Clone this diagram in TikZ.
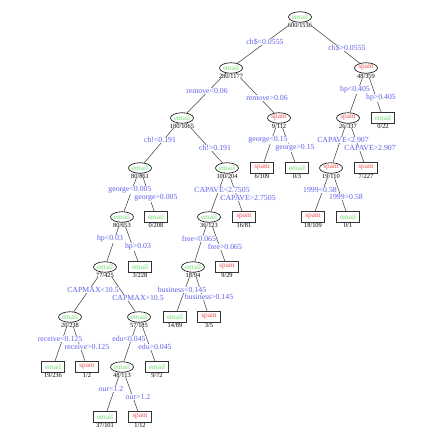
\documentclass[tikz,border=0pt]{standalone}
\usepackage{fontspec}
\setmainfont{Liberation Serif}
\usepackage{tikz}
\usetikzlibrary{shapes.geometric,backgrounds}
\definecolor{spEmail}{RGB}{110,222,110}
\definecolor{spSpam} {RGB}{236, 82, 82}
\definecolor{spSplit}{RGB}{ 96, 96,236}
\definecolor{spEdge} {RGB}{ 70, 70, 70}

\begin{document}
\begin{tikzpicture}[
  x=1pt,y=1pt,
  inner/.style={ellipse,draw=black,line width=0.6pt,fill=white,
              minimum width=23pt,minimum height=10.5pt,inner sep=0pt,
              font=\fontsize{7.2}{7.2}\selectfont},
  leaf/.style={rectangle,draw=black!80,line width=1.1pt,fill=white,
              minimum width=23pt,minimum height=11pt,inner sep=0pt,
              font=\fontsize{7.2}{7.2}\selectfont},
  em/.style={text=spEmail},
  sp/.style={text=spSpam},
  cnt/.style={text=black,fill=white,font=\fontsize{6.4}{6.4}\selectfont,inner sep=0.2pt},
  cut/.style={text=spSplit,fill=white,font=\fontsize{7.8}{7.8}\selectfont,inner sep=0.3pt},
  edge/.style={spEdge,line width=0.55pt}
]
\useasboundingbox (0,0) rectangle (421,-436);

\node[inner,em,label={[cnt]below:600/1536}] (n1)   at (300,-17)  {email};
\node[inner,em,label={[cnt]below:280/1177}] (n2)   at (231,-68)  {email};
\node[inner,sp,label={[cnt]below:48/359}]   (n3)   at (366,-68)  {spam};
\node[inner,em,label={[cnt]below:180/1065}] (n4)   at (182,-118) {email};
\node[inner,sp,label={[cnt]below:9/112}]    (n5)   at (279,-118) {spam};
\node[inner,sp,label={[cnt]below:26/337}]   (n6)   at (348,-118) {spam};
\node[leaf,em,label={[cnt]below:0/22}]      (n7)   at (383,-118) {email};
\node[inner,em,label={[cnt]below:80/861}]   (n8)   at (140,-168) {email};
\node[inner,em,label={[cnt]below:100/204}]  (n9)   at (227,-168) {email};
\node[leaf,sp,label={[cnt]below:6/109}]     (n10)  at (262,-168) {spam};
\node[leaf,em,label={[cnt]below:0/3}]       (n11)  at (297,-168) {email};
\node[inner,sp,label={[cnt]below:19/110}]   (n12)  at (331,-168) {spam};
\node[leaf,sp,label={[cnt]below:7/227}]     (n13)  at (366,-168) {spam};
\node[inner,em,label={[cnt]below:80/653}]   (n16)  at (122,-217) {email};
\node[leaf,em,label={[cnt]below:0/208}]     (n17)  at (156,-217) {email};
\node[inner,em,label={[cnt]below:36/123}]   (n18)  at (209,-217) {email};
\node[leaf,sp,label={[cnt]below:16/81}]     (n19)  at (244,-217) {spam};
\node[leaf,sp,label={[cnt]below:18/109}]    (n24)  at (313,-217) {spam};
\node[leaf,em,label={[cnt]below:0/1}]       (n25)  at (348,-217) {email};
\node[inner,em,label={[cnt]below:77/425}]   (n32)  at (105,-267) {email};
\node[leaf,em,label={[cnt]below:3/228}]     (n33)  at (140,-267) {email};
\node[inner,em,label={[cnt]below:18/94}]    (n36)  at (193,-267) {email};
\node[leaf,sp,label={[cnt]below:9/29}]      (n37)  at (227,-267) {spam};
\node[inner,em,label={[cnt]below:20/238}]   (n64)  at (70,-317)  {email};
\node[inner,em,label={[cnt]below:57/185}]   (n65)  at (139,-317) {email};
\node[leaf,em,label={[cnt]below:14/89}]     (n72)  at (175,-317) {email};
\node[leaf,sp,label={[cnt]below:3/5}]       (n73)  at (209,-317) {spam};
\node[leaf,em,label={[cnt]below:19/236}]    (n128) at (53,-367)  {email};
\node[leaf,sp,label={[cnt]below:1/2}]       (n129) at (87,-367)  {spam};
\node[inner,em,label={[cnt]below:48/113}]   (n130) at (122,-367) {email};
\node[leaf,em,label={[cnt]below:9/72}]      (n131) at (157,-367) {email};
\node[leaf,em,label={[cnt]below:37/101}]    (n260) at (105,-417) {email};
\node[leaf,sp,label={[cnt]below:1/12}]      (n261) at (140,-417) {spam};

\node[cut] (c1l)   at (265,-42)  {ch\$<0.0555};
\node[cut] (c1r)   at (347,-48)  {ch\$>0.0555};
\node[cut] (c2l)   at (207,-91)  {remove<0.06};
\node[cut] (c2r)   at (267,-98)  {remove>0.06};
\node[cut] (c3l)   at (355,-90)  {hp<0.405};
\node[cut] (c3r)   at (381,-98)  {hp>0.405};
\node[cut] (c4l)   at (160,-140) {ch!<0.191};
\node[cut] (c4r)   at (215,-148) {ch!>0.191};
\node[cut] (c5l)   at (268,-140) {george<0.15};
\node[cut] (c5r)   at (295,-148) {george>0.15};
\node[cut] (c6l)   at (343,-140) {CAPAVE<2.907};
\node[cut] (c6r)   at (370,-148) {CAPAVE>2.907};
\node[cut] (c8l)   at (130,-190) {george<0.005};
\node[cut] (c8r)   at (156,-198) {george>0.005};
\node[cut] (c9l)   at (222,-190) {CAPAVE<2.7505};
\node[cut] (c9r)   at (248,-198) {CAPAVE>2.7505};
\node[cut] (c12l)  at (320,-190) {1999<0.58};
\node[cut] (c12r)  at (346,-197) {1999>0.58};
\node[cut] (c16l)  at (110,-239) {hp<0.03};
\node[cut] (c16r)  at (138,-247) {hp>0.03};
\node[cut] (c18l)  at (199,-239) {free<0.065};
\node[cut] (c18r)  at (225,-247) {free>0.065};
\node[cut] (c32l)  at (93,-290)  {CAPMAX<10.5};
\node[cut] (c32r)  at (138,-298) {CAPMAX>10.5};
\node[cut] (c36l)  at (182,-290) {business<0.145};
\node[cut] (c36r)  at (209,-297) {business>0.145};
\node[cut] (c64l)  at (60,-339)  {receive<0.125};
\node[cut] (c64r)  at (87,-347)  {receive>0.125};
\node[cut] (c65l)  at (129,-339) {edu<0.045};
\node[cut] (c65r)  at (155,-347) {edu>0.045};
\node[cut] (c130l) at (111,-389) {our<1.2};
\node[cut] (c130r) at (138,-397) {our>1.2};

\begin{scope}[on background layer]
\fill[white] (0,0) rectangle (421,-436);
\draw[edge] (n1) -- (n2);
\draw[edge] (n1) -- (n3);
\draw[edge] (n2) -- (n4);
\draw[edge] (n2) -- (n5);
\draw[edge] (n3) -- (n6);
\draw[edge] (n3) -- (n7);
\draw[edge] (n4) -- (n8);
\draw[edge] (n4) -- (n9);
\draw[edge] (n5) -- (n10);
\draw[edge] (n5) -- (n11);
\draw[edge] (n6) -- (n12);
\draw[edge] (n6) -- (n13);
\draw[edge] (n8) -- (n16);
\draw[edge] (n8) -- (n17);
\draw[edge] (n9) -- (n18);
\draw[edge] (n9) -- (n19);
\draw[edge] (n12) -- (n24);
\draw[edge] (n12) -- (n25);
\draw[edge] (n16) -- (n32);
\draw[edge] (n16) -- (n33);
\draw[edge] (n18) -- (n36);
\draw[edge] (n18) -- (n37);
\draw[edge] (n32) -- (n64);
\draw[edge] (n32) -- (n65);
\draw[edge] (n36) -- (n72);
\draw[edge] (n36) -- (n73);
\draw[edge] (n64) -- (n128);
\draw[edge] (n64) -- (n129);
\draw[edge] (n65) -- (n130);
\draw[edge] (n65) -- (n131);
\draw[edge] (n130) -- (n260);
\draw[edge] (n130) -- (n261);
\end{scope}
\end{tikzpicture}
\end{document}
